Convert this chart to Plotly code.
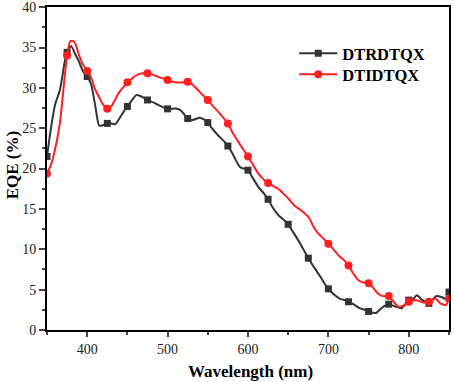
import plotly.graph_objects as go

# DTRDTQX (black, squares)
wl_black = [350, 354, 360, 366, 372, 375, 380, 385, 390, 395, 400, 405, 410, 415, 420, 425, 430, 435,
            440, 445, 450, 455, 461, 466, 470, 475, 480, 490, 500, 510, 515, 520, 525, 530, 540, 545,
            550, 555, 563, 570, 575, 580, 590, 600, 605, 613, 620, 625, 630, 638, 645, 650, 657, 665,
            670, 675, 682, 690, 695, 700, 707, 714, 720, 725, 731, 739, 745, 750, 759, 766, 770, 775,
            783, 791, 796, 800, 805, 810, 817, 825, 834, 843, 846, 850]
eqe_black = [21.5, 24.4, 27.9, 29.7, 33.2, 34.4, 35.2, 34.2, 33.2, 32.0, 31.4, 30.4, 27.8, 25.3, 25.4,
             25.6, 25.6, 25.5, 26.2, 27.0, 27.7, 28.4, 29.1, 29.0, 28.8, 28.5, 28.3, 27.8, 27.4, 27.45,
             27.3, 26.8, 26.2, 26.0, 26.3, 26.1, 25.7, 25.0, 24.1, 23.4, 22.8, 22.0, 20.2, 19.8, 19.0,
             17.7, 16.9, 16.2, 15.3, 14.2, 13.6, 13.1, 12.0, 10.7, 9.8, 8.9, 7.8, 6.6, 5.8, 5.1, 4.4,
             3.9, 3.7, 3.5, 3.2, 2.7, 2.5, 2.3, 2.1, 2.7, 3.0, 3.2, 2.9, 2.7, 3.2, 3.7, 3.8, 4.3, 3.7,
             3.3, 4.2, 4.0, 3.8, 4.7]

# DTIDTQX (red, circles)
wl_red = [350, 355, 358, 366, 372, 375, 379, 384, 390, 395, 400, 405, 410, 415, 420, 425, 430, 435,
          440, 445, 450, 455, 460, 465, 470, 475, 480, 490, 500, 505, 513, 520, 525, 530, 540, 550,
          555, 565, 575, 580, 590, 600, 605, 612, 620, 625, 632, 640, 645, 651, 657, 665, 670, 676,
          681, 687, 694, 700, 707, 714, 720, 725, 731, 737, 743, 750, 756, 762, 768, 775, 781, 787,
          793, 800, 810, 818, 825, 833, 839, 846, 850]
eqe_red = [19.4, 20.5, 21.5, 25.6, 31.4, 34.0, 35.8, 35.7, 34.0, 32.8, 32.1, 31.2, 29.8, 28.8, 27.9,
           27.4, 27.7, 28.6, 29.5, 30.1, 30.7, 31.1, 31.5, 31.7, 31.8, 31.8, 31.7, 31.3, 30.96, 30.8,
           30.67, 30.7, 30.75, 30.5, 29.5, 28.5, 27.9, 26.8, 25.6, 24.6, 23.0, 21.5, 20.7, 19.5, 18.6,
           18.2, 17.8, 17.3, 16.8, 16.2, 15.5, 14.9, 14.5, 13.9, 12.9, 12.0, 11.3, 10.7, 9.9, 9.1,
           8.6, 8.0, 7.0, 6.2, 5.9, 5.8, 5.2, 4.5, 4.2, 4.2, 3.5, 2.9, 3.0, 3.5, 3.7, 3.4, 3.5, 3.9,
           3.3, 3.1, 3.9]

series_names = ["DTRDTQX", "DTIDTQX"]
x_ticks = [400, 500, 600, 700, 800]
y_ticks = [0, 5, 10, 15, 20, 25, 30, 35, 40]

BLACK = "#333333"
RED = "#ff1f1f"
FONT = "Liberation Serif"

fig = go.Figure()

def add_series(wl, eqe, color, symbol, msize):
    fig.add_trace(go.Scatter(x=wl, y=eqe, mode="lines",
                             line=dict(color=color, width=2, shape="spline", smoothing=0.6),
                             showlegend=False, hoverinfo="skip"))
    mx = [w for w in wl if w % 25 == 0]
    my = [v for w, v in zip(wl, eqe) if w % 25 == 0]
    fig.add_trace(go.Scatter(x=mx, y=my, mode="markers",
                             marker=dict(color=color, symbol=symbol, size=msize), showlegend=False))

add_series(wl_black, eqe_black, BLACK, "square", 7)
add_series(wl_red, eqe_red, RED, "circle", 8)

# legend entries (one legend box each so they can be placed freely)
fig.add_trace(go.Scatter(x=[None], y=[None], mode="lines+markers", name=series_names[0], legend="legend",
                         line=dict(color=BLACK, width=2), marker=dict(color=BLACK, symbol="square", size=7)))
fig.add_trace(go.Scatter(x=[None], y=[None], mode="lines+markers", name=series_names[1], legend="legend2",
                         line=dict(color=RED, width=2), marker=dict(color=RED, symbol="circle", size=8)))

leg_font = dict(family=FONT, size=16.5, color="black", weight="bold")
fig.update_layout(
    width=454, height=382,
    margin=dict(l=47, r=5, t=7, b=52, autoexpand=False),
    paper_bgcolor="white", plot_bgcolor="white",
    font=dict(family=FONT, color="black"),
    legend=dict(x=0.615, y=0.856, xanchor="left", yanchor="middle", bgcolor="rgba(0,0,0,0)",
                font=leg_font, itemwidth=38),
    legend2=dict(x=0.615, y=0.791, xanchor="left", yanchor="middle", bgcolor="rgba(0,0,0,0)",
                 font=leg_font, itemwidth=38),
    xaxis=dict(range=[350, 850], tickvals=x_ticks, ticks="outside", ticklen=5, tickwidth=2,
               showline=True, linewidth=2, linecolor="black", mirror=True, showgrid=False, zeroline=False,
               automargin=False, tickfont=dict(family=FONT, size=14, color="#222"),
               minor=dict(dtick=50, tick0=350, ticks="outside", ticklen=3, tickwidth=2, showgrid=False)),
    yaxis=dict(range=[0, 40.02], tickvals=y_ticks, ticks="outside", ticklen=6, tickwidth=2,
               showline=True, linewidth=2, linecolor="black", mirror=True, showgrid=False, zeroline=False,
               automargin=False, tickfont=dict(family=FONT, size=14, color="#222"),
               minor=dict(dtick=2.5, tick0=0, ticks="outside", ticklen=3, tickwidth=2, showgrid=False)),
    annotations=[
        dict(text="Wavelength (nm)", xref="paper", yref="paper", x=0.505, y=-0.13, yanchor="middle",
             showarrow=False, font=dict(family=FONT, size=17, color="black", weight="bold")),
        dict(text="EQE (%)", xref="paper", yref="paper", x=-0.087, y=0.51, xanchor="center", yanchor="middle",
             textangle=-90, showarrow=False, font=dict(family=FONT, size=17, color="black", weight="bold")),
    ],
)

fig.write_html("out.html", config={"displayModeBar": False},
               post_script="document.body.style.margin='0';document.body.style.overflow='hidden';")
